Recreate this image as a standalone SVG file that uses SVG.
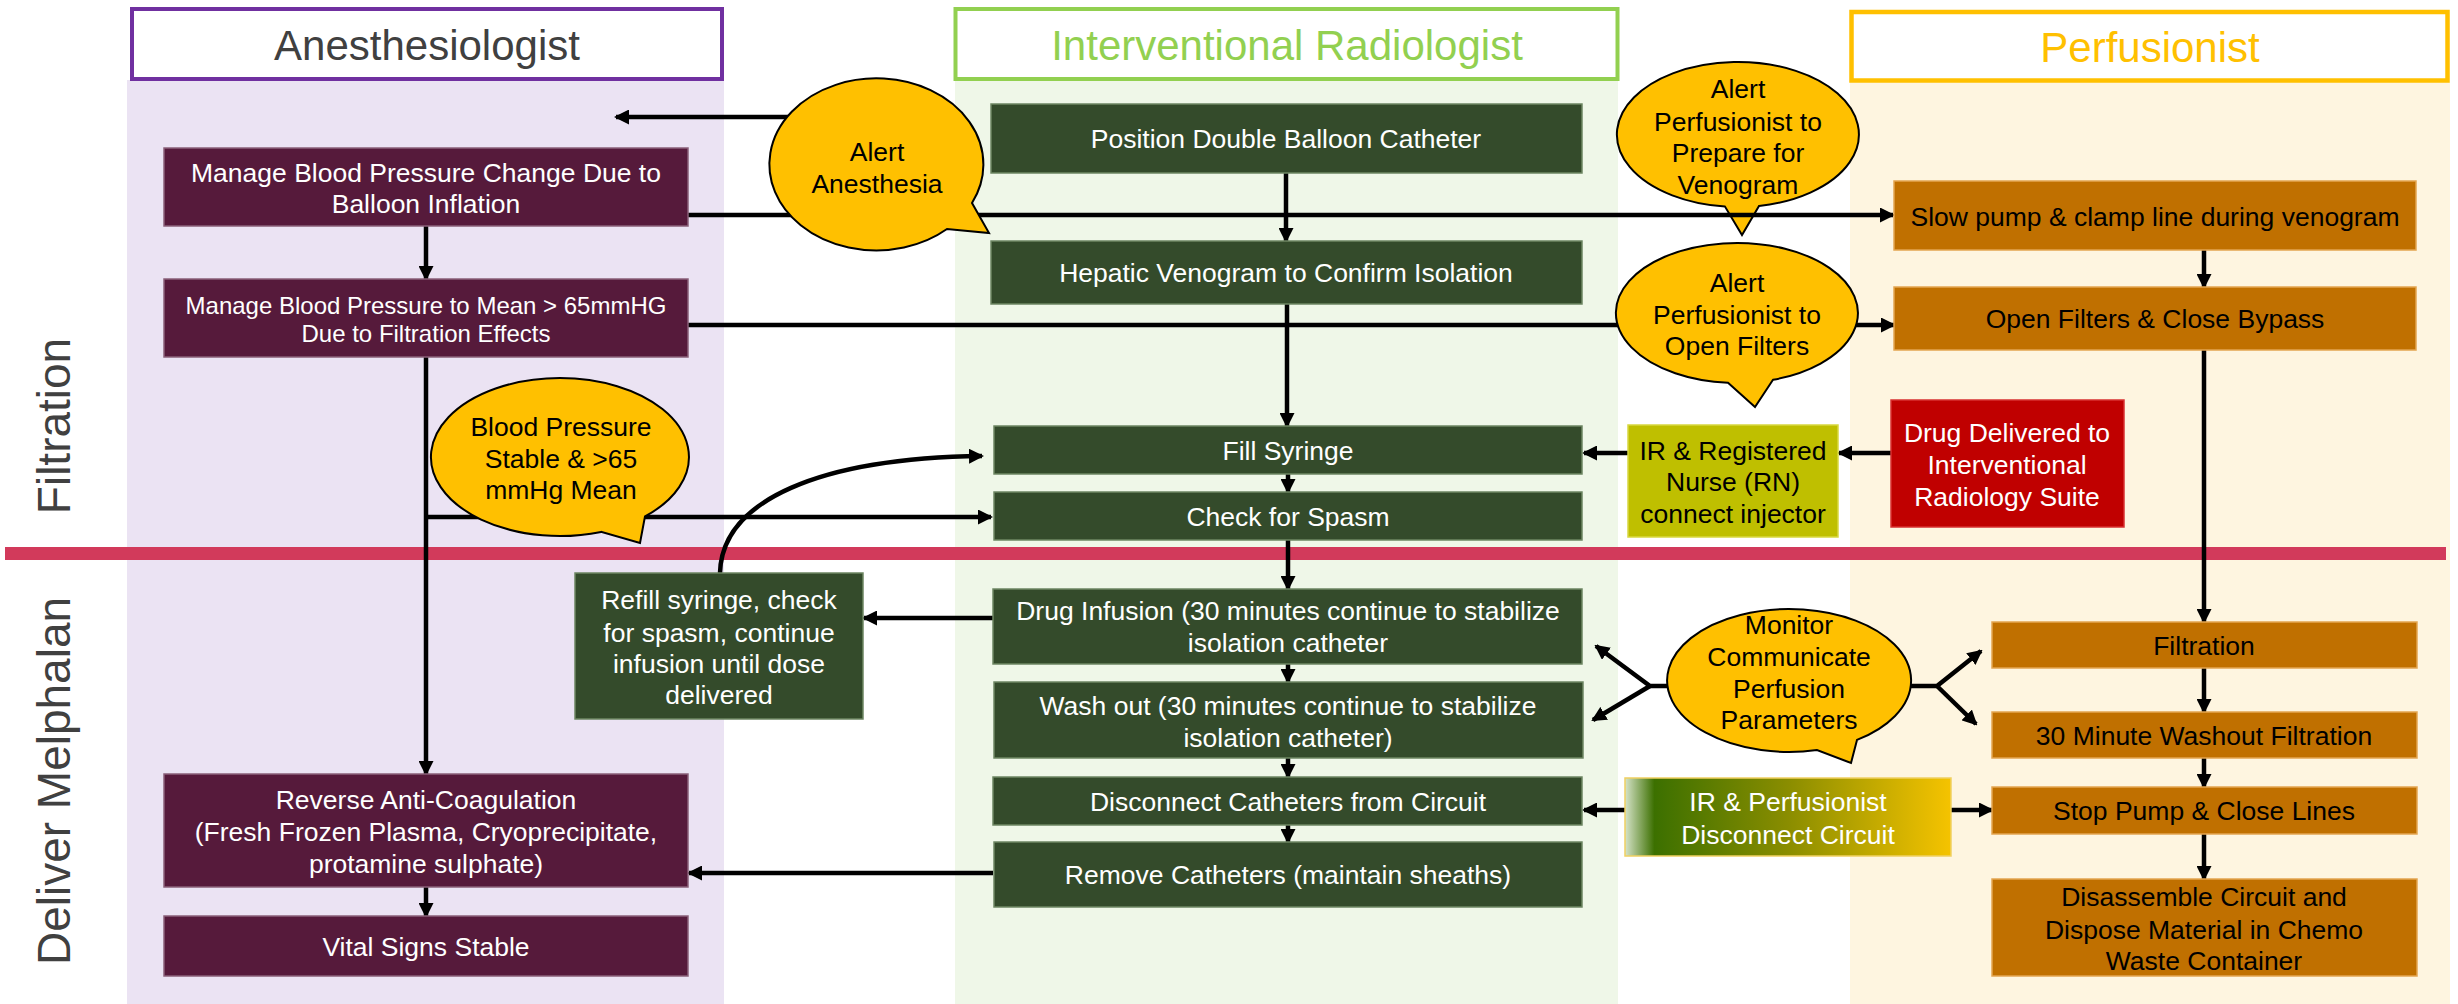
<svg xmlns="http://www.w3.org/2000/svg" width="2458" height="1004" viewBox="0 0 2458 1004">
  <defs>
    <marker id="arrow" markerUnits="userSpaceOnUse" markerWidth="15" markerHeight="15" refX="13" refY="7.5" orient="auto">
      <path d="M0,0 L15,7.5 L0,15 z" fill="#000"/>
    </marker>
    <linearGradient id="gradIrPerf" x1="0" y1="0" x2="1" y2="0">
      <stop offset="0" stop-color="#D6E3C8"/>
      <stop offset="0.09" stop-color="#3C7000"/>
      <stop offset="0.5" stop-color="#8A8D00"/>
      <stop offset="1" stop-color="#F5C300"/>
    </linearGradient>
    <style>
      text { font-family: "Liberation Sans", Arial, sans-serif; }
      .lane-title { font-size: 42px; text-anchor: middle; }
      .phase { font-size: 46px; fill: #404040; text-anchor: middle; }
      .t { font-size: 26.5px; text-anchor: middle; dominant-baseline: central; }
      .small { font-size: 24px; }
      .w { fill: #FFFFFF; }
      .k { fill: #000000; }
      .anes { fill: #561A3B; stroke: #8A6079; stroke-width: 1.5; }
      .ir { fill: #344B2B; stroke: #6E8763; stroke-width: 1.5; }
      .perf { fill: #C07000; stroke: #E3A550; stroke-width: 1.5; }
      .bubble { fill: #FFC000; stroke: #000; stroke-width: 2; }
      .conn { fill: none; stroke: #000; stroke-width: 4.5; }
    </style>
  </defs>

  <!-- swim lanes -->
  <g id="lane-anesthesiologist">
    <rect x="127" y="80" width="597" height="924" fill="#EBE3F3"/>
    <rect x="132" y="9" width="590" height="70" fill="#FFFFFF" stroke="#7030A0" stroke-width="4"/>
    <text class="lane-title" x="427" y="60" fill="#404040">Anesthesiologist</text>
  </g>
  <g id="lane-radiologist">
    <rect x="955" y="80" width="663" height="924" fill="#EFF7E8"/>
    <rect x="955.5" y="9" width="662" height="70" fill="#FFFFFF" stroke="#92D050" stroke-width="4"/>
    <text class="lane-title" x="1287" y="60" fill="#92D050">Interventional Radiologist</text>
  </g>
  <g id="lane-perfusionist">
    <rect x="1850" y="82" width="600" height="922" fill="#FEF5E0"/>
    <rect x="1851.5" y="12" width="596" height="68.5" fill="#FFFFFF" stroke="#FFC000" stroke-width="4.5"/>
    <text class="lane-title" x="2150" y="62" fill="#FFC000">Perfusionist</text>
  </g>

  <!-- phase labels and divider -->
  <g id="phases">
    <rect x="5" y="547" width="2441" height="13" fill="#D23A5B"/>
    <text class="phase" transform="translate(70,426) rotate(-90)">Filtration</text>
    <text class="phase" transform="translate(70,781) rotate(-90)">Deliver Melphalan</text>
  </g>

  <!-- callout that sits beneath the venogram line -->
  <g id="bubble-prepare-venogram">
    <path class="bubble" d="M 1759 205.9 L 1742 235 L 1725 206.6 A 121 72.5 0 1 1 1759 205.9 Z"/>
    <text class="t k" x="1738" y="89">Alert</text>
    <text class="t k" x="1738" y="122">Perfusionist to</text>
    <text class="t k" x="1738" y="153">Prepare for</text>
    <text class="t k" x="1738" y="185">Venogram</text>
  </g>

  <!-- connectors -->
  <g id="connectors" class="conn" marker-end="url(#arrow)">
    <path d="M 820 117 H 616"/>
    <path d="M 688 215 H 1893"/>
    <path d="M 688 325 H 1894"/>
    <path d="M 426 226 V 279"/>
    <path d="M 426 357 V 774"/>
    <path d="M 426 517 H 991"/>
    <path d="M 426 887 V 916"/>
    <path d="M 993 873 H 689"/>
    <path d="M 1286 173 V 241"/>
    <path d="M 1287 304 V 426"/>
    <path d="M 1288 474 V 492"/>
    <path d="M 1288 540 V 589"/>
    <path d="M 1288 664 V 682"/>
    <path d="M 1288 758 V 777"/>
    <path d="M 1288 825 V 842"/>
    <path d="M 993 618 H 864"/>
    <path d="M 720 573 C 722 500, 820 458, 982 456"/>
    <path d="M 1628 453 H 1584"/>
    <path d="M 1891 453 H 1839"/>
    <path d="M 2204 250 V 287"/>
    <path d="M 2204 350 V 622"/>
    <path d="M 2204 668 V 712"/>
    <path d="M 2204 758 V 787"/>
    <path d="M 2204 834 V 879"/>
    <path d="M 1625 810 H 1584"/>
    <path d="M 1951 810 H 1992"/>
    <path d="M 1667 686 H 1650 L 1596 646"/>
    <path d="M 1650 686 L 1593 720"/>
    <path d="M 1911 686 H 1937 L 1981 651"/>
    <path d="M 1937 686 L 1976 724"/>
  </g>

  <!-- Anesthesiologist tasks -->
  <g id="anes-balloon">
    <rect class="anes" x="164" y="148" width="524" height="78"/>
    <text class="t w" x="426" y="173">Manage Blood Pressure Change Due to</text>
    <text class="t w" x="426" y="204">Balloon Inflation</text>
  </g>
  <g id="anes-filtration">
    <rect class="anes" x="164" y="279" width="524" height="78"/>
    <text class="t w small" x="426" y="305">Manage Blood Pressure to Mean &gt; 65mmHG</text>
    <text class="t w small" x="426" y="333">Due to Filtration Effects</text>
  </g>
  <g id="anes-reverse">
    <rect class="anes" x="164" y="774" width="524" height="113"/>
    <text class="t w" x="426" y="800">Reverse Anti-Coagulation</text>
    <text class="t w" x="426" y="832">(Fresh Frozen Plasma, Cryoprecipitate,</text>
    <text class="t w" x="426" y="864">protamine sulphate)</text>
  </g>
  <g id="anes-vitals">
    <rect class="anes" x="164" y="916" width="524" height="60"/>
    <text class="t w" x="426" y="947">Vital Signs Stable</text>
  </g>

  <!-- Interventional Radiologist tasks -->
  <g id="ir-position">
    <rect class="ir" x="991" y="104" width="591" height="69"/>
    <text class="t w" x="1286" y="139">Position Double Balloon Catheter</text>
  </g>
  <g id="ir-venogram">
    <rect class="ir" x="991" y="241" width="591" height="63"/>
    <text class="t w" x="1286" y="273">Hepatic Venogram to Confirm Isolation</text>
  </g>
  <g id="ir-fill">
    <rect class="ir" x="994" y="426" width="588" height="48"/>
    <text class="t w" x="1288" y="451">Fill Syringe</text>
  </g>
  <g id="ir-spasm">
    <rect class="ir" x="994" y="492" width="588" height="48"/>
    <text class="t w" x="1288" y="517">Check for Spasm</text>
  </g>
  <g id="ir-infusion">
    <rect class="ir" x="993" y="589" width="589" height="75"/>
    <text class="t w" x="1288" y="611">Drug Infusion (30 minutes continue to stabilize</text>
    <text class="t w" x="1288" y="643">isolation catheter</text>
  </g>
  <g id="ir-washout">
    <rect class="ir" x="994" y="682" width="589" height="76"/>
    <text class="t w" x="1288" y="706">Wash out (30 minutes continue to stabilize</text>
    <text class="t w" x="1288" y="738">isolation catheter)</text>
  </g>
  <g id="ir-disconnect">
    <rect class="ir" x="993" y="777" width="589" height="48"/>
    <text class="t w" x="1288" y="802">Disconnect Catheters from Circuit</text>
  </g>
  <g id="ir-remove">
    <rect class="ir" x="994" y="842" width="588" height="65"/>
    <text class="t w" x="1288" y="875">Remove Catheters (maintain sheaths)</text>
  </g>
  <g id="ir-refill">
    <rect class="ir" x="575" y="573" width="288" height="146"/>
    <text class="t w" x="719" y="600">Refill syringe, check</text>
    <text class="t w" x="719" y="633">for spasm, continue</text>
    <text class="t w" x="719" y="664">infusion until dose</text>
    <text class="t w" x="719" y="695">delivered</text>
  </g>

  <!-- shared tasks -->
  <g id="ir-rn-injector">
    <rect x="1628" y="425" width="210" height="112" fill="#BFBF00" stroke="#D8D840" stroke-width="1.5"/>
    <text class="t k" x="1733" y="451">IR &amp; Registered</text>
    <text class="t k" x="1733" y="482">Nurse (RN)</text>
    <text class="t k" x="1733" y="514">connect injector</text>
  </g>
  <g id="drug-delivered">
    <rect x="1891" y="400" width="233" height="127" fill="#C00000" stroke="#D83030" stroke-width="1.5"/>
    <text class="t w" x="2007" y="433">Drug Delivered to</text>
    <text class="t w" x="2007" y="465">Interventional</text>
    <text class="t w" x="2007" y="497">Radiology Suite</text>
  </g>
  <g id="ir-perf-disconnect">
    <rect x="1625" y="778" width="326" height="78" fill="url(#gradIrPerf)" stroke="#F0D060" stroke-width="1.5"/>
    <text class="t w" x="1788" y="802">IR &amp; Perfusionist</text>
    <text class="t w" x="1788" y="835">Disconnect Circuit</text>
  </g>

  <!-- Perfusionist tasks -->
  <g id="perf-slow">
    <rect class="perf" x="1894" y="181" width="522" height="69"/>
    <text class="t k" x="2155" y="217">Slow pump &amp; clamp line during venogram</text>
  </g>
  <g id="perf-open">
    <rect class="perf" x="1894" y="287" width="522" height="63"/>
    <text class="t k" x="2155" y="319">Open Filters &amp; Close Bypass</text>
  </g>
  <g id="perf-filtration">
    <rect class="perf" x="1992" y="622" width="425" height="46"/>
    <text class="t k" x="2204" y="646">Filtration</text>
  </g>
  <g id="perf-washout">
    <rect class="perf" x="1992" y="712" width="425" height="46"/>
    <text class="t k" x="2204" y="736">30 Minute Washout Filtration</text>
  </g>
  <g id="perf-stop">
    <rect class="perf" x="1992" y="787" width="425" height="47"/>
    <text class="t k" x="2204" y="811">Stop Pump &amp; Close Lines</text>
  </g>
  <g id="perf-disassemble">
    <rect class="perf" x="1992" y="879" width="425" height="97"/>
    <text class="t k" x="2204" y="897">Disassemble Circuit and</text>
    <text class="t k" x="2204" y="930">Dispose Material in Chemo</text>
    <text class="t k" x="2204" y="961">Waste Container</text>
  </g>

  <!-- callouts -->
  <g id="bubble-alert-anesthesia">
    <path class="bubble" d="M 972 203 L 989 233 L 947 229 A 107 86 0 1 1 972 203 Z"/>
    <text class="t k" x="877" y="152">Alert</text>
    <text class="t k" x="877" y="184">Anesthesia</text>
  </g>
  <g id="bubble-open-filters">
    <path class="bubble" d="M 1773 379.8 L 1755 407 L 1728 382.8 A 121 70 0 1 1 1773 379.8 Z"/>
    <text class="t k" x="1737" y="283">Alert</text>
    <text class="t k" x="1737" y="315">Perfusionist to</text>
    <text class="t k" x="1737" y="346">Open Filters</text>
  </g>
  <g id="bubble-bp-stable">
    <path class="bubble" d="M 645 516.4 L 640 543 L 601 531.9 A 129 79 0 1 1 645 516.4 Z"/>
    <text class="t k" x="561" y="427">Blood Pressure</text>
    <text class="t k" x="561" y="459">Stable &amp; &gt;65</text>
    <text class="t k" x="561" y="490">mmHg Mean</text>
  </g>
  <g id="bubble-monitor">
    <path class="bubble" d="M 1857 739.9 L 1851 763 L 1817 750.1 A 122 71.5 0 1 1 1857 739.9 Z"/>
    <text class="t k" x="1789" y="625">Monitor</text>
    <text class="t k" x="1789" y="657">Communicate</text>
    <text class="t k" x="1789" y="689">Perfusion</text>
    <text class="t k" x="1789" y="720">Parameters</text>
  </g>
</svg>
